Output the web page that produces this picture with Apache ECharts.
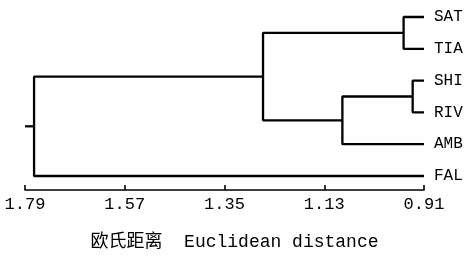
<!DOCTYPE html>
<html>
<head>
<meta charset="utf-8">
<script src="https://cdn.jsdelivr.net/npm/echarts@6/dist/echarts.min.js"></script>
<style>
  html, body { margin: 0; padding: 0; background: #fff; }
  #chart { width: 467px; height: 256px; }
</style>
</head>
<body>
<div id="chart"></div>
<script>
// 叶子节点（自上而下）
const leaves = ['SAT', 'TIA', 'SHI', 'RIV', 'AMB', 'FAL'];
// 合并步骤: [左, 右, 欧氏距离]，序号 >= 6 表示之前合并出的类
const mergeLeft = [0, 2, 7, 6, 9];
const mergeRight = [1, 3, 4, 8, 5];
const mergeDist = [0.955, 0.935, 1.09, 1.265, 1.77];
const leafDist = 0.91;
const rootDist = 1.79;
const tickValues = [1.79, 1.57, 1.35, 1.13, 0.91];

const fontMono = '"Liberation Mono", "Noto Sans CJK SC", monospace';

// 每个节点的位置 (距离, 纵坐标)
const nodeX = [];
const nodeY = [];
leaves.forEach((name, i) => {
  nodeX.push(leafDist);
  nodeY.push(i);
});

const series = [];
mergeLeft.forEach((l, i) => {
  const r = mergeRight[i];
  const h = mergeDist[i];
  series.push({
    type: 'line',
    symbol: 'none',
    data: [
      [nodeX[l], nodeY[l]],
      [h, nodeY[l]],
      [h, nodeY[r]],
      [nodeX[r], nodeY[r]],
    ],
  });
  nodeX.push(h);
  nodeY.push((nodeY[l] + nodeY[r]) / 2);
});
// 根节点短线
const root = nodeX.length - 1;
series.push({
  type: 'line',
  symbol: 'none',
  data: [
    [nodeX[root], nodeY[root]],
    [rootDist, nodeY[root]],
  ],
});
series.forEach(s => {
  s.lineStyle = { color: '#000', width: 2.3 };
  s.clip = false;
  s.silent = true;
});

const myChart = echarts.init(document.getElementById('chart'));
const option = {
  animation: false,
  backgroundColor: '#fff',
  grid: {
    left: 25,
    right: 43,
    top: 17,
    bottom: 80,
  },
  xAxis: {
    type: 'value',
    min: 0.91,
    max: 1.79,
    inverse: true,
    position: 'bottom',
    offset: 14,
    name: '欧氏距离  Euclidean distance',
    nameLocation: 'middle',
    nameGap: 43,
    nameTextStyle: {
      fontFamily: fontMono,
      fontSize: 18,
      color: '#000',
      padding: [0, 0, 0, 20],
    },
    axisLine: { show: true, onZero: false, lineStyle: { color: '#000', width: 1.6 } },
    axisTick: {
      show: true,
      inside: true,
      length: 5,
      customValues: tickValues,
      lineStyle: { color: '#000', width: 1.6 },
    },
    axisLabel: {
      customValues: tickValues,
      formatter: v => v.toFixed(2),
      fontFamily: fontMono,
      fontSize: 17,
      color: '#000',
      margin: 6,
    },
    splitLine: { show: false },
  },
  yAxis: {
    type: 'value',
    min: 0,
    max: 5,
    interval: 1,
    inverse: true,
    position: 'right',
    axisLine: { show: false },
    axisTick: { show: false },
    splitLine: { show: false },
    axisLabel: {
      margin: 10,
      fontFamily: fontMono,
      fontSize: 16,
      color: '#000',
      formatter: v => leaves[v] || '',
    },
  },
  series: series,
};
myChart.setOption(option);
</script>
</body>
</html>
